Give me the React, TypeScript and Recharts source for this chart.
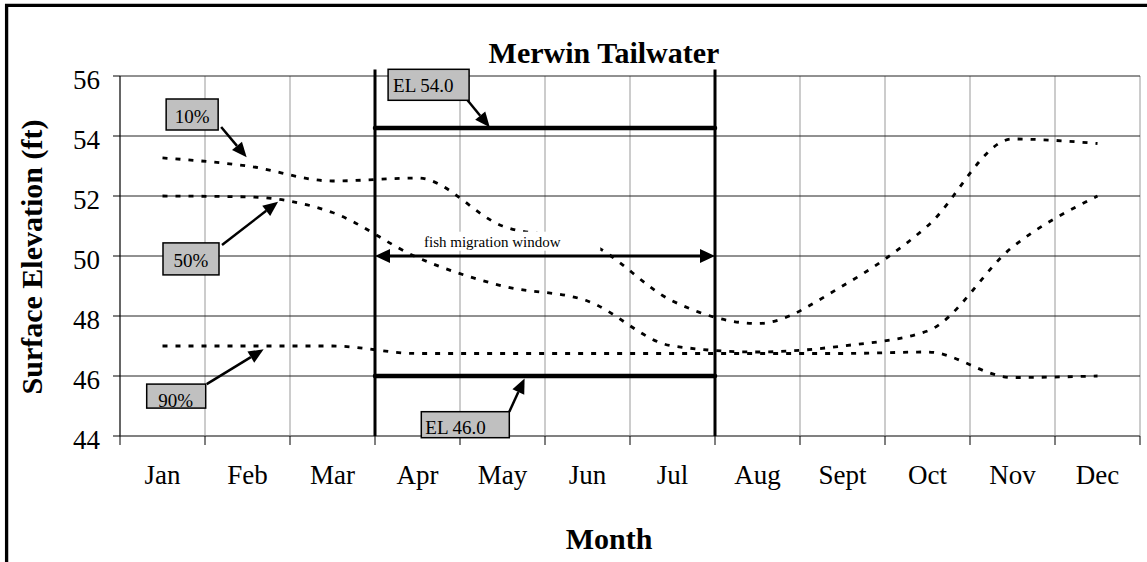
import { LineChart, Line, XAxis, YAxis, CartesianGrid, ReferenceLine, ReferenceDot } from 'recharts'

const months = ['Jan', 'Feb', 'Mar', 'Apr', 'May', 'Jun', 'Jul', 'Aug', 'Sept', 'Oct', 'Nov', 'Dec']
const exceed10 = [53.27, 53.0, 52.5, 52.6, 51.0, 50.45, 48.5, 47.75, 49.0, 51.0, 53.9, 53.75]
const exceed50 = [52.0, 51.97, 51.45, 49.95, 49.0, 48.5, 47.0, 46.8, 47.0, 47.5, 50.3, 52.0]
const exceed90 = [47.0, 47.0, 47.0, 46.75, 46.75, 46.75, 46.75, 46.75, 46.75, 46.8, 45.95, 46.0]
const yTicks = [44, 46, 48, 50, 52, 54, 56]
const monthEdges = [0, 1, 2, 3, 4, 5, 6, 7, 8, 9, 10, 11, 12]

// fish migration window: start of Apr to end of Jul
const windowStart = 3
const windowEnd = 7
const upperEl = 54.27
const lowerEl = 46
const fishY = 50

const data = months.map((m, i) => ({
  x: i + 0.5,
  month: m,
  p10: exceed10[i],
  p50: exceed50[i],
  p90: exceed90[i],
}))

const W = 1147
const H = 562
const FONT = '"Liberation Serif", "Times New Roman", serif'
const HALF_BAND = 1020 / 12 / 2

// callout boxes: arrow from -> to (data coords), box offset from arrow start in px
const callouts = [
  { text: '10%', from: [1.19, 54.3], to: [1.49, 53.29], box: [-55, -28, 52, 31], tx: 26, ty: 24, anchor: 'middle' },
  { text: '50%', from: [1.2, 50.37], to: [1.86, 51.81], box: [-59, -2, 56, 32], tx: 28, ty: 24, anchor: 'middle' },
  { text: '90%', from: [1.02, 45.73], to: [1.69, 46.89], box: [-60, 0, 59, 24], tx: 29, ty: 23, anchor: 'middle' },
  { text: 'EL 54.0', from: [4.06, 55.29], to: [4.35, 54.29], box: [-77, -28, 81, 31], tx: 5, ty: 23, anchor: 'start' },
  { text: 'EL 46.0', from: [4.58, 44.81], to: [4.76, 45.92], box: [-88, 0, 88, 26], tx: 4, ty: 22, anchor: 'start' },
]

function arrowHead(x1: number, y1: number, x2: number, y2: number, len: number, half: number) {
  const a = Math.atan2(y2 - y1, x2 - x1)
  const c = Math.cos(a)
  const s = Math.sin(a)
  const bx = x2 - len * c
  const by = y2 - len * s
  return { bx, by, points: `${x2},${y2} ${bx + half * s},${by - half * c} ${bx - half * s},${by + half * c}` }
}

function calloutShape(c: any) {
  return (props: any) => {
    const { x1, y1, x2, y2 } = props
    const [dx, dy, w, h] = c.box
    const head = arrowHead(x1, y1, x2, y2, 15, 6.5)
    return (
      <g>
        <line x1={x1} y1={y1} x2={head.bx} y2={head.by} stroke="#000" strokeWidth={2.5} />
        <polygon points={head.points} fill="#000" />
        <rect x={x1 + dx} y={y1 + dy} width={w} height={h} fill="#c0c0c0" stroke="#000" strokeWidth={1.5} />
        <text x={x1 + dx + c.tx} y={y1 + dy + c.ty} textAnchor={c.anchor} fontSize={19} fontFamily={FONT} fill="#000">
          {c.text}
        </text>
      </g>
    )
  }
}

function fishArrow(props: any) {
  const { x1, y1, x2, y2 } = props
  const right = arrowHead(x1, y1, x2, y2, 15, 7)
  const left = arrowHead(x2, y2, x1, y1, 15, 7)
  return (
    <g>
      <line x1={left.bx} y1={y1} x2={right.bx} y2={y2} stroke="#000" strokeWidth={3} />
      <polygon points={right.points} fill="#000" />
      <polygon points={left.points} fill="#000" />
    </g>
  )
}

function fishLabel(props: any) {
  const { cx, cy } = props
  return (
    <g>
      <rect x={cx - 74} y={cy - 15} width={182} height={19} fill="#fff" />
      <text x={cx} y={cy} textAnchor="middle" fontSize={15} fontFamily={FONT} fill="#000">
        fish migration window
      </text>
    </g>
  )
}

function MonthTick(props: any) {
  const { x, y, payload } = props
  if (payload.value >= 12) return <g />
  return (
    <text x={x + HALF_BAND} y={y + 39} textAnchor="middle" fontSize={27} fontFamily={FONT} fill="#000">
      {months[payload.value]}
    </text>
  )
}

function ElevTick(props: any) {
  const { x, y, payload } = props
  return (
    <text x={x} y={y + 13} textAnchor="end" fontSize={27} fontFamily={FONT} fill="#000">
      {payload.value}
    </text>
  )
}

export default function App() {
  return (
    <div style={{ position: 'absolute', left: 0, top: 0, width: W, height: H, overflow: 'hidden', background: '#fff' }}>
      <LineChart width={W} height={H} data={data} margin={{ top: 76, right: 7, bottom: 66, left: 0 }}>
        <CartesianGrid horizontal={false} stroke="#999" strokeWidth={1} />
        <CartesianGrid vertical={false} stroke="#222" strokeWidth={1} />
        <XAxis
          dataKey="x"
          type="number"
          domain={[0, 12]}
          ticks={monthEdges}
          interval={0}
          height={60}
          tickSize={9}
          tickMargin={0}
          axisLine={{ stroke: '#808080', strokeWidth: 2 }}
          tickLine={{ stroke: '#000' }}
          tick={<MonthTick />}
        />
        <YAxis
          domain={[44, 56]}
          ticks={yTicks}
          interval={0}
          width={120}
          tickSize={7}
          tickMargin={13}
          axisLine={{ stroke: '#000' }}
          tickLine={{ stroke: '#000' }}
          tick={<ElevTick />}
        />
        <Line type="monotone" dataKey="p10" stroke="#000" strokeWidth={2.8} strokeDasharray="5 8" dot={false} isAnimationActive={false} />
        <Line type="monotone" dataKey="p50" stroke="#000" strokeWidth={2.8} strokeDasharray="5 8" dot={false} isAnimationActive={false} />
        <Line type="monotone" dataKey="p90" stroke="#000" strokeWidth={2.8} strokeDasharray="5 8" dot={false} isAnimationActive={false} />

        <ReferenceDot x={4.38} y={50.31} r={0} shape={fishLabel} zIndex={1500} />

        <ReferenceLine
          segment={[{ x: windowStart, y: 56.22 }, { x: windowStart, y: 44 }]}
          stroke="#000"
          strokeWidth={3}
          ifOverflow="visible"
          zIndex={1600}
        />
        <ReferenceLine
          segment={[{ x: windowEnd, y: 56.22 }, { x: windowEnd, y: 44 }]}
          stroke="#000"
          strokeWidth={3}
          ifOverflow="visible"
          zIndex={1600}
        />
        <ReferenceLine
          segment={[{ x: windowStart, y: upperEl }, { x: windowEnd, y: upperEl }]}
          stroke="#000"
          strokeWidth={4.5}
          strokeLinecap="round"
          zIndex={1600}
        />
        <ReferenceLine
          segment={[{ x: windowStart, y: lowerEl }, { x: windowEnd, y: lowerEl }]}
          stroke="#000"
          strokeWidth={4.5}
          strokeLinecap="round"
          zIndex={1600}
        />
        <ReferenceLine
          segment={[{ x: windowStart, y: fishY }, { x: windowEnd, y: fishY }]}
          shape={fishArrow}
          zIndex={1600}
        />
        {callouts.map((c) => (
          <ReferenceLine
            key={c.text}
            segment={[{ x: c.from[0], y: c.from[1] }, { x: c.to[0], y: c.to[1] }]}
            shape={calloutShape(c)}
            zIndex={1700}
          />
        ))}
      </LineChart>
      <svg width={W} height={H} style={{ position: 'absolute', left: 0, top: 0, pointerEvents: 'none' }}>
        <path d="M6.6 562 V5.4 H1147" fill="none" stroke="#000" strokeWidth={3.3} />
        <text x={604} y={63} textAnchor="middle" fontSize={30} fontWeight="bold" fontFamily={FONT} fill="#000">
          Merwin Tailwater
        </text>
        <text x={609} y={549} textAnchor="middle" fontSize={30} fontWeight="bold" fontFamily={FONT} fill="#000">
          Month
        </text>
        <text
          x={42}
          y={257}
          transform="rotate(-90 42 257)"
          textAnchor="middle"
          fontSize={30}
          fontWeight="bold"
          fontFamily={FONT}
          fill="#000"
        >
          Surface Elevation (ft)
        </text>
      </svg>
    </div>
  )
}
